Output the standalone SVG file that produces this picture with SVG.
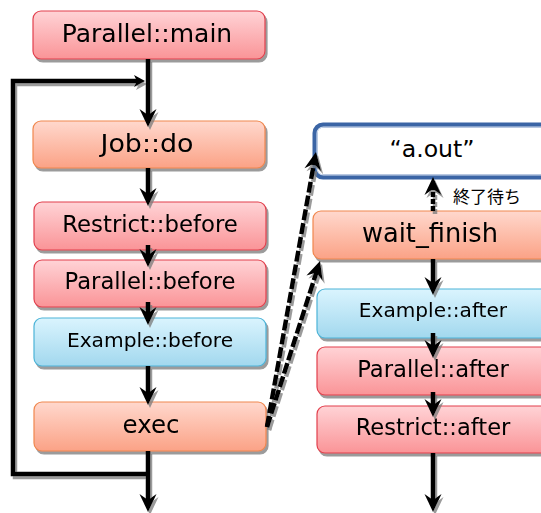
<svg xmlns="http://www.w3.org/2000/svg" width="541" height="513" viewBox="0 0 541 513">
  <defs>
    <linearGradient id="gRed" x1="0" y1="0" x2="0" y2="1">
      <stop offset="0" stop-color="#ffd3d6"/>
      <stop offset="1" stop-color="#fa9497"/>
    </linearGradient>
    <linearGradient id="gOrange" x1="0" y1="0" x2="0" y2="1">
      <stop offset="0" stop-color="#ffd8cd"/>
      <stop offset="1" stop-color="#fba286"/>
    </linearGradient>
    <linearGradient id="gBlue" x1="0" y1="0" x2="0" y2="1">
      <stop offset="0" stop-color="#daf4fe"/>
      <stop offset="1" stop-color="#a2d8ee"/>
    </linearGradient>
    <filter id="shadow" filterUnits="userSpaceOnUse" x="0" y="0" width="541" height="513">
      <feGaussianBlur in="SourceAlpha" stdDeviation="0.7"/>
      <feOffset dx="1.5" dy="3" result="off"/>
      <feFlood flood-color="#7a7a7a" flood-opacity="0.75"/>
      <feComposite in2="off" operator="in"/>
      <feMerge>
        <feMergeNode/>
        <feMergeNode in="SourceGraphic"/>
      </feMerge>
    </filter>
    <marker id="ah" markerUnits="userSpaceOnUse" viewBox="-19 -9 20 18" refX="-9" refY="0" markerWidth="20" markerHeight="18" orient="auto">
      <path d="M0,0 L-18,-8.5 L-12,0 L-18,8.5 Z" fill="#000"/>
    </marker>
    <marker id="ahSmall" markerUnits="userSpaceOnUse" viewBox="-12 -7 13 14" refX="-5" refY="0" markerWidth="13" markerHeight="14" orient="auto">
      <path d="M0,0 L-11,-6 L-8,0 L-11,6 Z" fill="#000"/>
    </marker>
  </defs>
  <style>
    .red rect{fill:url(#gRed);stroke:#e23f4d;stroke-width:1.2}
    .orange rect{fill:url(#gOrange);stroke:#f0874e;stroke-width:1.2}
    .blue rect{fill:url(#gBlue);stroke:#4cb4d8;stroke-width:1.2}
    text{font-family:"DejaVu Sans","Noto Sans CJK JP",sans-serif;fill:#000;text-anchor:middle}
    .link{fill:none;stroke:#000;stroke-width:4.5;marker-end:url(#ah)}
    .dash{stroke-width:4.5;stroke-dasharray:11 3}
  </style>

  <!-- process nodes -->
  <g id="nodes" filter="url(#shadow)">
    <g id="parallel-main" class="red">
      <rect x="33" y="11" width="232" height="48" rx="8"/>
      <text x="147" y="42" font-size="25">Parallel::main</text>
    </g>
    <g id="job-do" class="orange">
      <rect x="33" y="121" width="232" height="47" rx="8"/>
      <text x="147" y="152" font-size="24" textLength="93" lengthAdjust="spacingAndGlyphs">Job::do</text>
    </g>
    <g id="restrict-before" class="red">
      <rect x="34" y="202" width="232" height="48" rx="8"/>
      <text x="150" y="232" font-size="22.8">Restrict::before</text>
    </g>
    <g id="parallel-before" class="red">
      <rect x="34" y="260" width="232" height="47" rx="8"/>
      <text x="150" y="289" font-size="22.7">Parallel::before</text>
    </g>
    <g id="example-before" class="blue">
      <rect x="34" y="318" width="232" height="48" rx="8"/>
      <text x="150" y="347" font-size="20.2">Example::before</text>
    </g>
    <g id="exec" class="orange">
      <rect x="34" y="402" width="232" height="49" rx="8"/>
      <text x="151" y="433" font-size="24.5">exec</text>
    </g>
    <g id="wait-finish" class="orange">
      <rect x="313" y="211" width="236" height="48" rx="8"/>
      <text x="430" y="242" font-size="25.7">wait_finish</text>
    </g>
    <g id="example-after" class="blue">
      <rect x="317" y="289" width="232" height="49" rx="8"/>
      <text x="433" y="317" font-size="20.1">Example::after</text>
    </g>
    <g id="parallel-after" class="red">
      <rect x="317" y="347" width="232" height="48" rx="8"/>
      <text x="433" y="377" font-size="22.7">Parallel::after</text>
    </g>
    <g id="restrict-after" class="red">
      <rect x="317" y="406" width="232" height="47" rx="8"/>
      <text x="433" y="435" font-size="22.6">Restrict::after</text>
    </g>
  </g>

  <!-- spawned program -->
  <g id="a-out">
    <rect x="315" y="125" width="236" height="52" rx="8" fill="#fff" stroke="#3b65a5" stroke-width="5"/>
    <rect x="317" y="127" width="232" height="48" rx="6.5" fill="none" stroke="#d5e0f0" stroke-width="1.1"/>
    <text x="432" y="157" font-size="23.6">“a.out”</text>
  </g>

  <!-- connectors -->
  <g id="connectors" filter="url(#shadow)">
    <path class="link" d="M148,59 V118"/>
    <path class="link" d="M148,168 V197"/>
    <path class="link" d="M148,245 V258"/>
    <path class="link" d="M148,302 V316"/>
    <path class="link" d="M148,366 V396"/>
    <path class="link" d="M148,451 V503"/>
    <path class="link" d="M148,474 H13 V81 H140" style="marker-end:url(#ahSmall)" stroke-linejoin="miter"/>

    <path class="link dash" d="M433,211 V186" style="stroke-dasharray:5 2"/>
    <path class="link" d="M433,259 V286"/>
    <path class="link" d="M433,333 V349"/>
    <path class="link" d="M433,392 V408"/>
    <path class="link" d="M433,453 V503"/>

    <path class="link dash" d="M267,427 L314.4,160.9"/>
    <path class="link dash" d="M267,427 L317.3,269.6"/>
  </g>
  <text x="453" y="203" font-size="17" style="text-anchor:start">終了待ち</text>
</svg>
